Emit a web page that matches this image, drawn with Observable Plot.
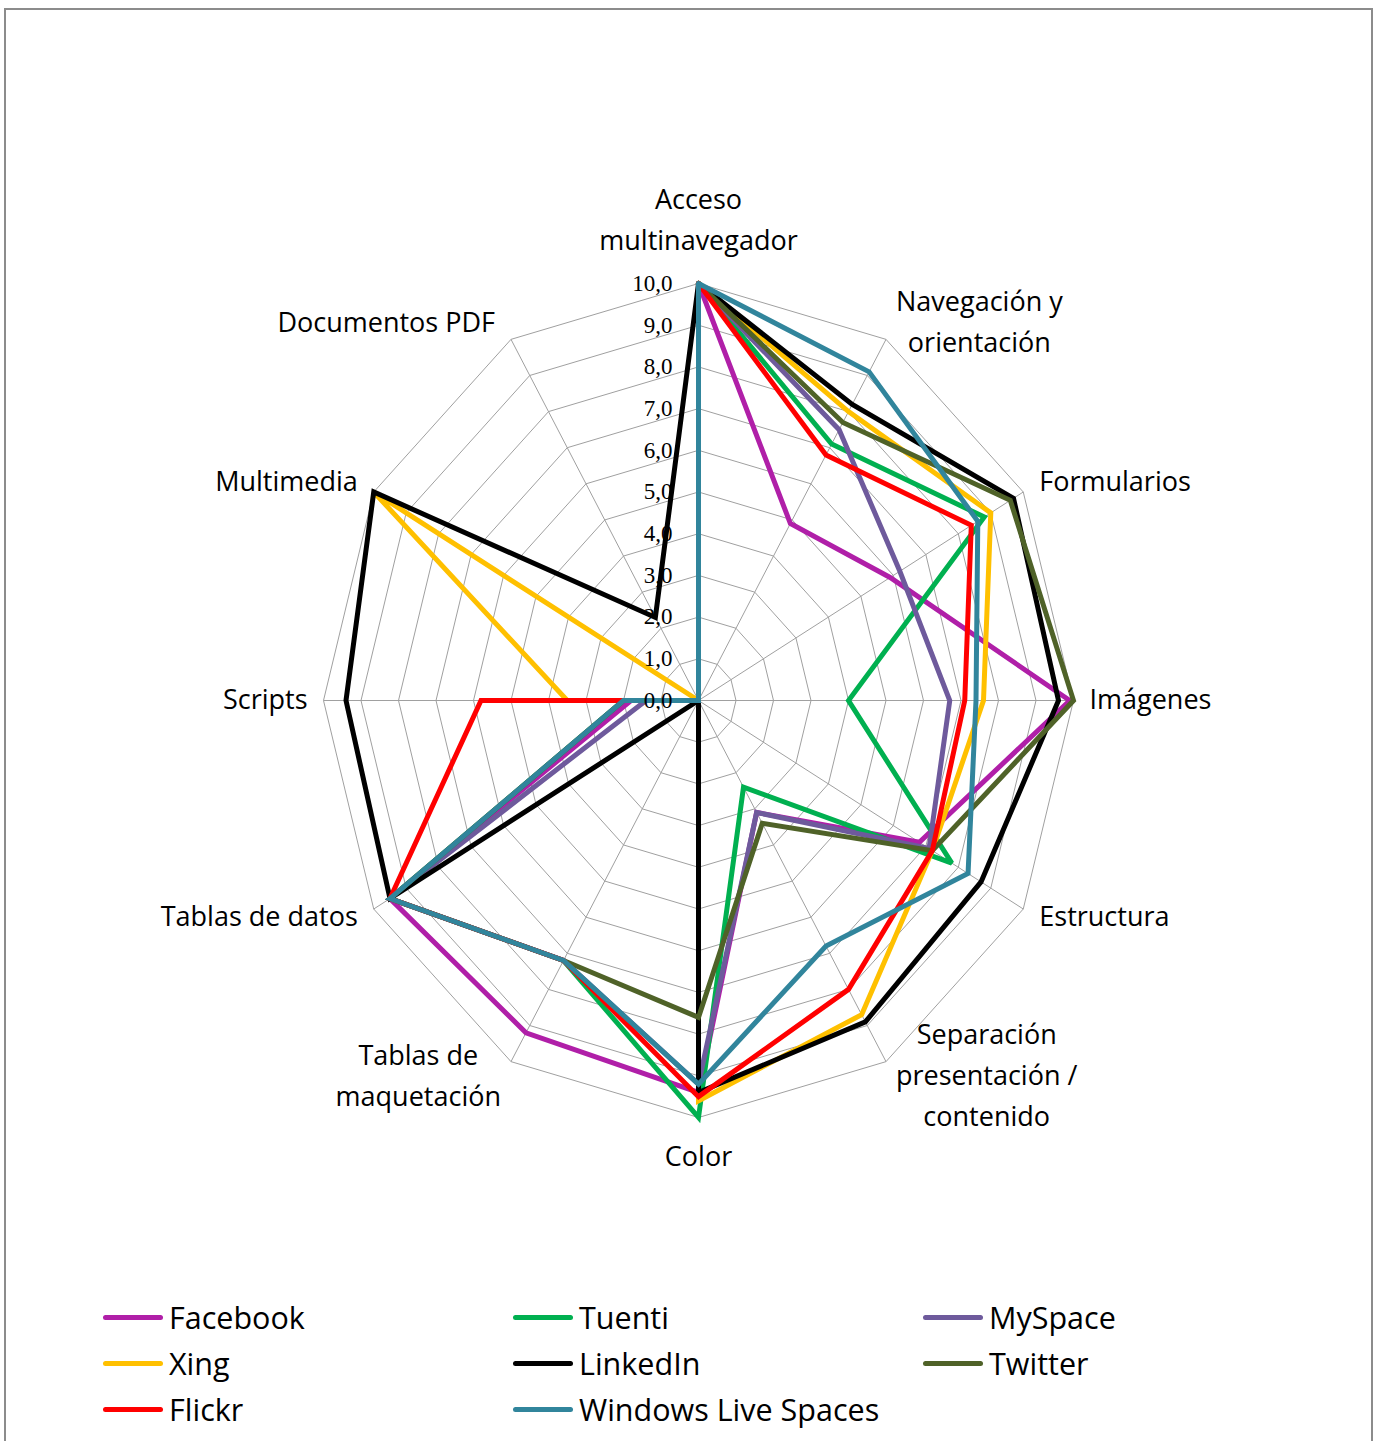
<!DOCTYPE html>
<html><head><meta charset="utf-8">
<script src="https://cdn.jsdelivr.net/npm/d3@7"></script>
<script src="https://cdn.jsdelivr.net/npm/@observablehq/plot@0.6"></script>
<style>
body{margin:0;background:#fff;font-family:"Open Sans",sans-serif;}
#frame{position:absolute;left:4px;top:8px;width:1369px;height:1470px;border:2px solid #8c8c8c;box-sizing:border-box;}
#chart{position:absolute;left:0;top:0;}
#legend{position:absolute;left:0;top:0;width:1377px;}
.item{position:absolute;display:flex;align-items:center;font-size:30.5px;color:#000;white-space:nowrap;}
.sw{width:60px;height:5px;border-radius:3px;margin-right:6px;}
</style></head><body>
<div id="frame"></div><div id="chart"></div><div id="legend"></div>
<script>
const categories = ["Acceso\nmultinavegador", "Navegación y\norientación", "Formularios", "Imágenes", "Estructura", "Separación\npresentación /\ncontenido", "Color", "Tablas de\nmaquetación", "Tablas de datos", "Scripts", "Multimedia", "Documentos PDF"];
const ticks = [0, 1, 2, 3, 4, 5, 6, 7, 8, 9, 10];
const tickLabels = ["0,0", "1,0", "2,0", "3,0", "4,0", "5,0", "6,0", "7,0", "8,0", "9,0", "10,0"];

const seriesNames = ["Facebook", "Tuenti", "MySpace", "Xing", "LinkedIn", "Twitter", "Flickr", "Windows Live Spaces"];
const seriesColors = ["#b01fa8", "#00b050", "#6e5a9c", "#ffc000", "#000000", "#4f6228", "#ff0000", "#31859c"];

const facebook = [10, 4.9, 5.9, 9.9, 6.8, 3.1, 9.4, 9.2, 9.5, 1.8, 0, 0];
const tuenti   = [10, 7.1, 8.8, 4.0, 7.8, 2.4, 10, 7.2, 9.5, 2.0, 0, 0];
const myspace  = [10, 7.5, 6.2, 6.7, 7.1, 3.1, 9.2, 7.2, 9.5, 1.4, 0, 0];
const xing     = [10, 8.0, 9.0, 7.6, 7.2, 8.7, 9.6, 0, 0, 3.5, 10, 0];
const linkedin = [10, 8.2, 9.7, 9.6, 8.7, 8.9, 9.4, 0, 9.5, 9.4, 10, 2.3];
const twitter  = [10, 7.7, 9.6, 10, 7.2, 3.4, 7.6, 7.2, 9.5, 2.0, 0, 0];
const flickr   = [10, 6.8, 8.4, 7.1, 7.2, 8.0, 9.5, 7.2, 9.5, 5.8, 0, 0];
const wls      = [10, 9.1, 8.6, 7.4, 8.3, 6.8, 9.2, 7.2, 9.5, 2.0, 0, 0];
const seriesValues = [facebook, tuenti, myspace, xing, linkedin, twitter, flickr, wls];

const n = categories.length;
const maxV = d3.max(ticks);
const ang = i => i * 2 * Math.PI / n;
const pt = (v, i) => ({x: v * Math.sin(ang(i)), y: v * Math.cos(ang(i))});

const rings = ticks.filter(t => t > 0).flatMap(t => d3.range(n + 1).map(i => ({ring: t, ...pt(t, i % n)})));
const spokes = categories.map((c, i) => ({x1: 0, y1: 0, ...pt(maxV, i)}));

const labelFont = '"Open Sans", sans-serif';
const labelSize = 27;
const ctx = document.createElement("canvas").getContext("2d");
ctx.font = `${labelSize}px ${labelFont}`;

const labelMarks = categories.map((c, i) => {
  const s = Math.sin(ang(i)), co = Math.cos(ang(i));
  const lines = c.split("\n");
  const w = d3.max(lines, l => ctx.measureText(l).width);
  let dx = 0, dy = 0, lineAnchor = "middle";
  if (Math.abs(s) < 0.1) { lineAnchor = co > 0 ? "bottom" : "top"; dy = co > 0 ? -34 : 19; }
  else { dx = Math.sign(s) * ((lines.length > 1 ? 10 : 16) + w / 2); dy = -co * 18 - 5; }
  return Plot.text([{...pt(maxV, i), t: c}], {x: "x", y: "y", text: "t", dx, dy, lineAnchor, textAnchor: "middle",
    fontSize: labelSize, fontFamily: labelFont, fill: "#000", lineHeight: 41 / labelSize});
});

const seriesMarks = seriesValues.map((vals, k) => {
  const data = vals.map((v, i) => pt(v, i));
  data.push(data[0]);
  return Plot.line(data, {x: "x", y: "y", stroke: seriesColors[k], strokeWidth: 5, strokeLinejoin: "miter", strokeMiterlimit: 3, curve: "linear"});
});

const W = 1377, H = 1270;
const chart = Plot.plot({
  width: W, height: H,
  marginLeft: 323, marginRight: W - 1073, marginTop: 283, marginBottom: H - 1117,
  x: {domain: [-maxV, maxV], axis: null},
  y: {domain: [-maxV, maxV], axis: null},
  style: {background: "transparent", overflow: "visible"},
  marks: [
    Plot.line(rings, {x: "x", y: "y", z: "ring", stroke: "#a0a0a0", strokeWidth: 1}),
    Plot.link(spokes, {x1: "x1", y1: "y1", x2: "x", y2: "y", stroke: "#a0a0a0", strokeWidth: 1}),
    ...seriesMarks,
    Plot.text(ticks, {x: () => 0, y: d => d, text: (d, i) => tickLabels[i], textAnchor: "end", dx: -26,
      fontFamily: '"Liberation Serif", serif', fontSize: 23, fill: "#000"}),
    ...labelMarks
  ]
});
document.getElementById("chart").appendChild(chart);

const legend = document.getElementById("legend");
seriesNames.forEach((name, k) => {
  const col = k % 3, row = Math.floor(k / 3);
  const it = document.createElement("div");
  it.className = "item";
  it.style.left = (103 + col * 410) + "px";
  it.style.top = (1318 + row * 46 - 21) + "px";
  it.style.height = "40px";
  const sw = document.createElement("div");
  sw.className = "sw"; sw.style.background = seriesColors[k];
  const tx = document.createElement("span"); tx.textContent = name;
  it.appendChild(sw); it.appendChild(tx);
  legend.appendChild(it);
});
</script>
</body></html>
